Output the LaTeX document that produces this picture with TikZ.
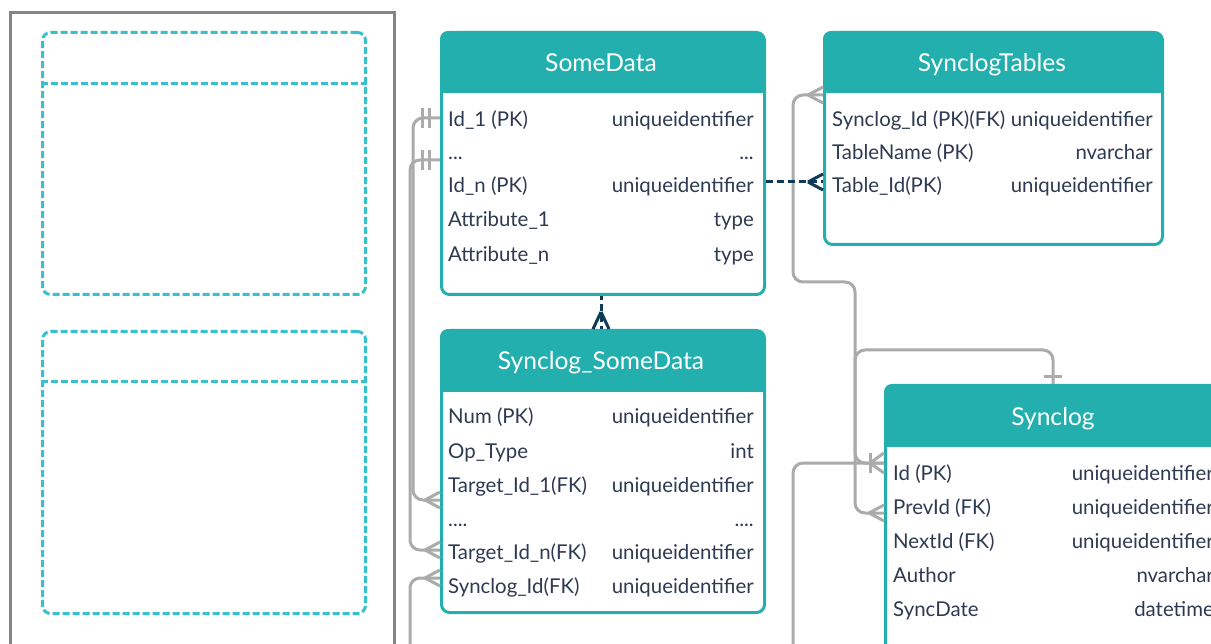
\documentclass[tikz,border=0pt]{standalone}
\usepackage{fontspec}
\setmainfont{Lato}
\usetikzlibrary{calc}
\definecolor{teal1}{HTML}{23AFAD}
\definecolor{txt}{HTML}{2E3A52}
\definecolor{connc}{HTML}{ABABAB}
\definecolor{navy}{HTML}{0E3B56}
\definecolor{dashc}{HTML}{38C0D0}
\definecolor{framec}{HTML}{858585}
\newcommand\crowL[2][connc]{\draw[markline,draw=#1] ($(#2)+(-15,0)$) -- ($(#2)+(0,-8)$) ($(#2)+(-15,0)$) -- ($(#2)+(0,8)$);}
\newcommand\crowU[2][connc]{\draw[markline,draw=#1] ($(#2)+(0,-17)$) -- ($(#2)+(-8,0)$) ($(#2)+(0,-17)$) -- ($(#2)+(8,0)$);}
\begin{document}
\begin{tikzpicture}[x=1pt,y=-1pt,
  tbl/.style={draw=teal1, line width=3pt, rounded corners=8pt, anchor=north west, inner sep=0pt},
  rowtext/.style={text=txt, font=\fontsize{20.4}{24}\selectfont, inner sep=0pt},
  lrow/.style={rowtext, anchor=base west},
  rrow/.style={rowtext, anchor=base east},
  ttl/.style={text=white, font=\fontsize{24.6}{28}\selectfont, inner sep=0pt, anchor=base},
  conn/.style={draw=connc, line width=3pt, rounded corners=10pt},
  markline/.style={line width=3pt},
  rel/.style={draw=navy, line width=3pt, dash pattern=on 7pt off 4pt},
  ghost/.style={draw=dashc, line width=3pt, dash pattern=on 7pt off 3pt},
  frameline/.style={draw=framec, line width=3pt}]
\useasboundingbox (0,0) rectangle (1211,644);
\fill[white] (0,0) rectangle (1211,644);

% left frame with placeholder tables
\draw[frameline] (10,700) -- (10,13) -- (394,13) -- (394,700);
\node[ghost, rounded corners=8pt, anchor=north west, minimum width=323pt, minimum height=262pt, inner sep=0pt] (g1) at (41,31) {};
\draw[ghost] (g1.west |- 0,84) -- (g1.east |- 0,84);
\node[ghost, rounded corners=8pt, anchor=north west, minimum width=323pt, minimum height=282pt, inner sep=0pt] (g2) at (41,330) {};
\draw[ghost] (g2.west |- 0,382) -- (g2.east |- 0,382);

% header fills
\begin{scope}\clip[rounded corners=8pt] (440,31) rectangle (763,293); \fill[teal1] (440,31) rectangle (763,93);\end{scope}
\begin{scope}\clip[rounded corners=8pt] (823,31) rectangle (1161,243); \fill[teal1] (823,31) rectangle (1161,93);\end{scope}
\begin{scope}\clip[rounded corners=8pt] (440,329) rectangle (763,611); \fill[teal1] (440,329) rectangle (763,392);\end{scope}
\begin{scope}\clip[rounded corners=8pt] (884,384) rectangle (1222,680); \fill[teal1] (884,384) rectangle (1222,447);\end{scope}

% tables
\node[tbl, minimum width=323pt, minimum height=262pt] (somedata) at (440,31) {};
\node[tbl, minimum width=338pt, minimum height=212pt] (synctables) at (823,31) {};
\node[tbl, minimum width=323pt, minimum height=282pt] (ssd) at (440,329) {};
\node[tbl, minimum width=338pt, minimum height=296pt] (synclog) at (884,384) {};

% titles
\node[ttl] (t1) at (601,72) {SomeData};
\node[ttl] (t2) at (992,72) {SynclogTables};
\node[ttl] (t3) at (601,370) {Synclog\_SomeData};
\node[ttl] (t4) at (1053,425) {Synclog};

% SomeData rows
\node[lrow] (a1) at (448,127) {Id\_1 (PK)};      \node[rrow] (a1r) at (754,127) {uniqueidentifier};
\node[lrow] (a2) at (448,160) {...};             \node[rrow] (a2r) at (754,160) {...};
\node[lrow] (a3) at (448,193) {Id\_n (PK)};      \node[rrow] (a3r) at (754,193) {uniqueidentifier};
\node[lrow] (a4) at (448,227) {Attribute\_1};    \node[rrow] (a4r) at (754,227) {type};
\node[lrow] (a5) at (448,262) {Attribute\_n};    \node[rrow] (a5r) at (754,262) {type};

% SynclogTables rows
\node[lrow] (b1) at (832,127) {Synclog\_Id (PK)(FK)}; \node[rrow] (b1r) at (1153,127) {uniqueidentifier};
\node[lrow] (b2) at (832,160) {TableName (PK)};       \node[rrow] (b2r) at (1153,160) {nvarchar};
\node[lrow] (b3) at (832,193) {Table\_Id(PK)};        \node[rrow] (b3r) at (1153,193) {uniqueidentifier};

% Synclog_SomeData rows
\node[lrow] (c1) at (448,424) {Num (PK)};          \node[rrow] (c1r) at (754,424) {uniqueidentifier};
\node[lrow] (c2) at (448,458) {Op\_Type};          \node[rrow] (c2r) at (754,458) {int};
\node[lrow] (c3) at (448,492) {Target\_Id\_1(FK)}; \node[rrow] (c3r) at (754,492) {uniqueidentifier};
\node[lrow] (c4) at (448,526) {....};              \node[rrow] (c4r) at (754,526) {....};
\node[lrow] (c5) at (448,559) {Target\_Id\_n(FK)}; \node[rrow] (c5r) at (754,559) {uniqueidentifier};
\node[lrow] (c6) at (448,593) {Synclog\_Id(FK)};   \node[rrow] (c6r) at (754,593) {uniqueidentifier};

% Synclog rows
\node[lrow] (d1) at (893,480) {Id (PK)};      \node[rrow] (d1r) at (1214,480) {uniqueidentifier};
\node[lrow] (d2) at (893,514) {PrevId (FK)};  \node[rrow] (d2r) at (1214,514) {uniqueidentifier};
\node[lrow] (d3) at (893,548) {NextId (FK)};  \node[rrow] (d3r) at (1214,548) {uniqueidentifier};
\node[lrow] (d4) at (893,582) {Author};       \node[rrow] (d4r) at (1214,582) {nvarchar};
\node[lrow] (d5) at (893,616) {SyncDate};     \node[rrow] (d5r) at (1214,616) {datetime};

% connector end points
\coordinate (sdA) at (somedata.west |- 0,118);
\coordinate (sdB) at (somedata.west |- 0,160);
\coordinate (ssA) at (ssd.west |- 0,500);
\coordinate (ssB) at (ssd.west |- 0,550);
\coordinate (ssC) at (ssd.west |- 0,578);
\coordinate (stA) at (synctables.west |- 0,95);
\coordinate (stB) at (synctables.west |- 0,182);
\coordinate (sdC) at (somedata.east |- 0,182);
\coordinate (slA) at (synclog.west |- 0,463);
\coordinate (slB) at (synclog.west |- 0,513);
\coordinate (slTop) at (synclog.north -| 1053,0);
\coordinate (sdBot) at (somedata.south -| 601,0);
\coordinate (ssTop) at (ssd.north -| 601,0);

% grey connectors
\draw[conn] (sdA) -- (413,118) -- (413,500) -- (ssA);
\draw[conn] (sdB) -- (410,160) -- (410,550) -- (ssB);
\draw[conn] (ssC) -- (410,578) -- (410,665) -- (793,665) -- (793,463) -- (slA);
\draw[conn] (stA) -- (793,95) -- (793,282) -- (855,282) -- (855,463) -- (slA);
\draw[conn] (slTop) -- (1053,350) -- (855,350) -- (855,513) -- (slB);

% marks
\draw[markline,draw=connc] ($(sdA)+(-18,-10)$) -- ($(sdA)+(-18,10)$) ($(sdA)+(-11,-10)$) -- ($(sdA)+(-11,10)$);
\draw[markline,draw=connc] ($(sdB)+(-18,-10)$) -- ($(sdB)+(-18,10)$) ($(sdB)+(-11,-10)$) -- ($(sdB)+(-11,10)$);
\crowL{ssA}
\crowL{ssB}
\crowL{ssC}
\crowL{stA}
\crowL{slB}
\draw[markline,draw=connc] ($(slA)+(-14,0)$) -- ($(slA)+(0,-10)$) ($(slA)+(-14,0)$) -- ($(slA)+(0,10)$);
\draw[markline,draw=connc] ($(slA)+(-14,-10)$) -- ($(slA)+(-14,10)$);
\draw[markline,draw=connc] ($(slTop)+(-9,-7)$) -- ($(slTop)+(9,-7)$);

% navy dashed relations
\draw[rel] (sdC) -- (stB);
\crowL[navy]{stB}
\draw[rel, dash phase=3pt] (sdBot) -- (ssTop);
\crowU[navy]{ssTop}
\end{tikzpicture}
\end{document}
